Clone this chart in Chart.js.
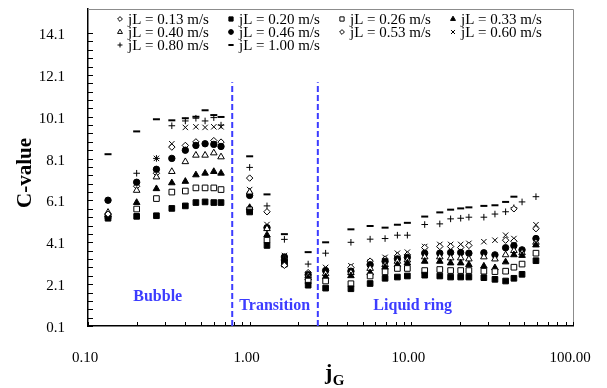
<!DOCTYPE html>
<html>
<head>
<meta charset="utf-8">
<script src="https://cdn.jsdelivr.net/npm/chart.js@4.4.1/dist/chart.umd.min.js"></script>
<style>
  html, body { margin: 0; padding: 0; background: #fff; }
  #wrap { width: 607px; height: 388px; }
</style>
</head>
<body>
<div id="wrap"><canvas id="c" width="607" height="388"></canvas></div>
<script>
// C-value vs jG, one series per liquid superficial velocity jL
const seriesNames = ['jL = 0.13 m/s', 'jL = 0.20 m/s', 'jL = 0.26 m/s', 'jL = 0.33 m/s', 'jL = 0.40 m/s',
  'jL = 0.46 m/s', 'jL = 0.53 m/s', 'jL = 0.60 m/s', 'jL = 0.80 m/s', 'jL = 1.00 m/s'];

// [jG, C-value]
const jL013 = [[0.133, 5.45], [1.28, 5.56], [1.64, 3.0], [43.1, 5.7]];
const jL020 = [[0.133, 5.25], [0.2, 5.34], [0.265, 5.37], [0.33, 5.72], [0.4, 5.84], [0.465, 6.0], [0.53, 6.03],
  [0.6, 6.0], [0.665, 6.0], [1.0, 5.55], [1.28, 3.95], [1.64, 3.1], [2.3, 2.05], [2.95, 1.91], [4.23, 1.88],
  [5.56, 2.13], [6.88, 2.38], [8.2, 2.44], [9.45, 2.49], [12.1, 2.53], [15.0, 2.49], [17.5, 2.44], [20.2, 2.44],
  [22.7, 2.44], [28.1, 2.41], [32.9, 2.33], [38.3, 2.25], [43.1, 2.38], [48.4, 2.57], [59, 3.22]];
const jL026 = [[0.133, 5.34], [0.2, 5.69], [0.265, 6.19], [0.33, 6.5], [0.4, 6.55], [0.465, 6.7], [0.53, 6.7],
  [0.6, 6.7], [0.665, 6.62], [1.0, 5.65], [1.28, 4.2], [1.64, 3.06], [2.3, 2.25], [2.95, 2.25], [4.23, 2.12],
  [5.56, 2.49], [6.88, 2.69], [8.2, 2.85], [9.45, 2.85], [12.1, 2.75], [15.0, 2.8], [17.5, 2.75], [20.2, 2.75],
  [22.7, 2.75], [28.1, 2.72], [32.9, 2.7], [38.3, 2.72], [43.1, 2.91], [48.4, 3.06], [59, 3.58]];
const jL033 = [[0.133, 5.4], [0.2, 6.0], [0.265, 6.66], [0.33, 6.94], [0.4, 7.01], [0.465, 7.32], [0.53, 7.4],
  [0.6, 7.48], [0.665, 7.4], [1.0, 5.76], [1.28, 4.45], [1.64, 3.3], [2.3, 2.4], [2.95, 2.45], [4.23, 2.5],
  [5.56, 2.64], [6.88, 2.91], [8.2, 3.03], [9.45, 3.11], [12.1, 3.19], [15.0, 3.19], [17.5, 3.11], [20.2, 3.11],
  [22.7, 3.03], [28.1, 2.96], [32.9, 2.88], [38.3, 3.16], [43.1, 3.5], [48.4, 3.47], [59, 3.97]];
const jL040 = [[0.133, 5.53], [0.2, 6.58], [0.265, 7.22], [0.33, 7.48], [0.4, 7.95], [0.465, 8.26], [0.53, 8.26],
  [0.6, 8.37], [0.665, 8.18], [1.0, 6.5], [1.28, 4.75], [1.64, 3.35], [2.3, 2.5], [2.95, 2.6], [4.23, 2.65],
  [5.56, 2.85], [6.88, 3.03], [8.2, 3.19], [9.45, 3.25], [12.1, 3.4], [15.0, 3.4], [17.5, 3.35], [20.2, 3.35],
  [22.7, 3.3], [28.1, 3.4], [32.9, 3.3], [38.3, 3.5], [43.1, 3.7], [48.4, 3.6], [59, 4.1]];
const jL046 = [[0.133, 6.11], [0.2, 6.97], [0.265, 7.59], [0.33, 8.11], [0.4, 8.5], [0.465, 8.73], [0.53, 8.81],
  [0.6, 8.78], [0.665, 8.68], [1.0, 6.34], [1.28, 4.8], [1.64, 3.4], [2.3, 2.55], [2.95, 2.75], [4.23, 2.72],
  [5.56, 3.03], [6.88, 3.19], [8.2, 3.31], [9.45, 3.38], [12.1, 3.58], [15.0, 3.58], [17.5, 3.61], [20.2, 3.61],
  [22.7, 3.58], [28.1, 3.6], [32.9, 3.5], [38.3, 3.84], [43.1, 3.94], [48.4, 3.74], [59, 4.28]];
const jL053 = [[0.2, 6.78], [0.265, 7.4], [0.33, 8.65], [0.4, 8.73], [0.465, 8.9], [0.6, 8.96], [0.665, 8.89],
  [1.0, 7.17], [2.3, 2.65], [4.23, 2.9], [5.56, 3.2], [6.88, 3.3], [8.2, 3.45], [9.45, 3.5], [12.1, 3.85],
  [15.0, 3.9], [17.5, 3.9], [20.2, 3.85], [22.7, 3.95], [38.3, 4.2], [43.1, 4.15], [59, 4.75]];
const jL060 = [[0.265, 8.11], [0.33, 8.81], [0.4, 9.59], [0.465, 9.62], [0.53, 9.59], [0.6, 9.62], [0.665, 9.62],
  [1.0, 6.62], [1.28, 4.95], [1.64, 3.47], [2.3, 2.6], [2.95, 2.9], [4.23, 2.98], [5.56, 3.14], [6.88, 3.38],
  [8.2, 3.58], [9.45, 3.63], [12.1, 3.9], [15.0, 4.0], [17.5, 4.0], [20.2, 4.0], [22.7, 4.05], [28.1, 4.13],
  [32.9, 4.2], [38.3, 4.44], [43.1, 4.28], [59, 4.94]];
const jL080 = [[0.2, 7.4], [0.265, 8.11], [0.33, 9.67], [0.4, 9.9], [0.465, 10.03], [0.53, 9.9], [0.6, 10.06],
  [0.665, 9.7], [1.0, 7.68], [1.28, 5.84], [1.64, 4.24], [2.3, 3.06], [2.95, 3.58], [4.23, 4.1], [5.56, 4.25],
  [6.88, 4.28], [8.2, 4.44], [9.45, 4.44], [12.1, 4.95], [15.0, 4.98], [17.5, 5.22], [20.2, 5.25], [22.7, 5.3],
  [28.1, 5.3], [32.9, 5.45], [38.3, 5.56], [43.1, 5.75], [48.4, 6.03], [59, 6.28]];
const jL100 = [[0.133, 8.31], [0.2, 9.4], [0.265, 9.98], [0.33, 9.93], [0.4, 10.03], [0.465, 10.1], [0.53, 10.41],
  [0.6, 10.18], [0.665, 10.09], [1.0, 8.21], [1.28, 6.39], [1.64, 4.49], [2.3, 3.63], [2.95, 4.1], [4.23, 4.72],
  [5.56, 4.88], [6.88, 4.8], [8.2, 4.94], [9.45, 5.03], [12.1, 5.33], [15.0, 5.53], [17.5, 5.66], [20.2, 5.72],
  [22.7, 5.77], [28.1, 5.84], [32.9, 5.87], [38.3, 6.03], [43.1, 6.28]];
const allSeries = [jL013, jL020, jL026, jL033, jL040, jL046, jL053, jL060, jL080, jL100];

// flow regime boundaries (jG) and labels
const regimeBounds = [0.78, 2.64];
const regimeLineTop = 11.75;
const regimeNames = ['Bubble', 'Transition', 'Liquid ring'];
const regimeLabelAt = [[0.27, 1.49], [1.43, 1.06], [10.2, 1.06]];

// axes
const xTickValues = [0.1, 1, 10, 100];
const yTickValues = [0.1, 2.1, 4.1, 6.1, 8.1, 10.1, 12.1, 14.1];

// marker look for each series
const markStyle = ['rectRot', 'rect', 'rect', 'triangle', 'triangle', 'circle', 'rectRot', 'crossRot', 'cross', 'line'];
const markFilled = [false, true, false, true, false, true, false, true, true, true];
const markRadius = [3.2, 4, 4, 3.8, 3.8, 3.2, 3.2, 3.8, 3.3, 3.5];
const BLUE = '#3c3cff';
const SERIF = '"Liberation Serif", "Times New Roman", serif';

const datasets = allSeries.map((pts, i) => ({
  label: seriesNames[i],
  data: pts.map(([x, y]) => ({ x, y })),
  pointStyle: markStyle[i],
  pointRadius: markRadius[i],
  borderColor: '#000',
  backgroundColor: markFilled[i] ? '#000' : '#fff',
  borderWidth: markStyle[i] === 'line' ? 2 : 1,
  showLine: false
}));
regimeBounds.forEach(b => datasets.push({
  label: '',
  data: [{ x: b, y: 0.1 }, { x: b, y: regimeLineTop }],
  showLine: true, pointRadius: 0, borderColor: BLUE, borderWidth: 2, borderDash: [6, 3]
}));

// frame, inner ticks, legend, region labels, axis titles
const decor = {
  id: 'decor',
  beforeDatasetsDraw(chart) {
    const { ctx, chartArea: a, scales: { x, y } } = chart;
    ctx.save();
    ctx.strokeStyle = '#8c8c8c'; ctx.lineWidth = 1;
    ctx.beginPath();
    ctx.moveTo(a.left, a.top + 0.5); ctx.lineTo(a.right + 0.5, a.top + 0.5); ctx.lineTo(a.right + 0.5, a.bottom);
    ctx.stroke();
    ctx.strokeStyle = '#000'; ctx.lineWidth = 1;
    ctx.beginPath();
    for (let k = 0; k <= 35; k++) {
      const py = Math.round(y.getPixelForValue(0.1 + 0.4 * k)) + 0.5;
      ctx.moveTo(a.left, py); ctx.lineTo(a.left + 5, py);
    }
    [0.1, 1, 10].forEach(d => {
      for (let m = 1; m <= 10; m++) {
        const px = Math.round(x.getPixelForValue(d * m)) + 0.5;
        ctx.moveTo(px, a.bottom); ctx.lineTo(px, a.bottom - 4);
      }
    });
    ctx.stroke();
    ctx.restore();
  },
  afterDraw(chart) {
    const { ctx, scales: { x, y }, chartArea: a } = chart;
    ctx.save();
    // legend
    chart.data.datasets.slice(0, seriesNames.length).forEach((ds, i) => {
      const cx = 120 + (i % 4) * 111, cy = 19 + Math.floor(i / 4) * 13;
      ctx.fillStyle = ds.backgroundColor; ctx.strokeStyle = '#000'; ctx.lineWidth = ds.borderWidth;
      Chart.helpers.drawPoint(ctx, { pointStyle: ds.pointStyle, radius: ds.pointRadius * 0.75, borderWidth: ds.borderWidth, rotation: 0 }, cx, cy);
      ctx.fillStyle = '#000'; ctx.font = '15px ' + SERIF; ctx.textBaseline = 'middle'; ctx.textAlign = 'left';
      ctx.fillText(ds.label, cx + 8, cy + 1);
    });
    // regime labels
    ctx.fillStyle = BLUE; ctx.font = 'bold 16px ' + SERIF; ctx.textAlign = 'center'; ctx.textBaseline = 'middle';
    regimeNames.forEach((t, i) => {
      ctx.fillText(t, x.getPixelForValue(regimeLabelAt[i][0]), y.getPixelForValue(regimeLabelAt[i][1]));
    });
    // y title
    ctx.save();
    ctx.translate(26, 173);
    ctx.rotate(-Math.PI / 2);
    ctx.fillStyle = '#000'; ctx.font = 'bold 21px ' + SERIF;
    ctx.fillText('C-value', 0, 0);
    ctx.restore();
    // x title: j with subscript G
    ctx.fillStyle = '#000'; ctx.textAlign = 'left'; ctx.textBaseline = 'alphabetic';
    ctx.font = 'bold 22px ' + SERIF;
    const wj = ctx.measureText('j').width;
    ctx.font = 'bold 15px ' + SERIF;
    const wg = ctx.measureText('G').width;
    const x0 = (a.left + a.right) / 2 - (wj + wg) / 2 + 4;
    ctx.font = 'bold 22px ' + SERIF;
    ctx.fillText('j', x0, 379);
    ctx.font = 'bold 15px ' + SERIF;
    ctx.fillText('G', x0 + wj + 0.5, 385);
    ctx.restore();
  }
};

new Chart(document.getElementById('c'), {
  type: 'scatter',
  data: { datasets },
  options: {
    responsive: false,
    animation: false,
    events: [],
    layout: { padding: { left: 0, right: 34, top: 9, bottom: 0 } },
    plugins: { legend: { display: false }, tooltip: { enabled: false } },
    scales: {
      x: {
        type: 'logarithmic', min: 0.1, max: 100,
        afterBuildTicks: s => { s.ticks = xTickValues.map(v => ({ value: v })); },
        afterFit: s => { s.height = 62; s.paddingLeft = 0; s.paddingRight = 0; },
        grid: { display: false },
        border: { color: '#000', width: 1.5 },
        ticks: { color: '#000', padding: 15, labelOffset: -3, maxRotation: 0, autoSkip: false,
          font: { family: SERIF, size: 15 }, callback: v => Number(v).toFixed(2) }
      },
      y: {
        type: 'linear', min: 0.1, max: 15.25,
        afterBuildTicks: s => { s.ticks = yTickValues.map(v => ({ value: v })); },
        afterFit: s => { s.width = 88; s.paddingTop = 0; s.paddingBottom = 0; },
        grid: { display: false },
        border: { color: '#000', width: 1.5 },
        ticks: { color: '#000', padding: 15, labelOffset: 2, autoSkip: false,
          font: { family: SERIF, size: 15 }, callback: v => Number(v).toFixed(1) }
      }
    }
  },
  plugins: [decor]
});
</script>
</body>
</html>
